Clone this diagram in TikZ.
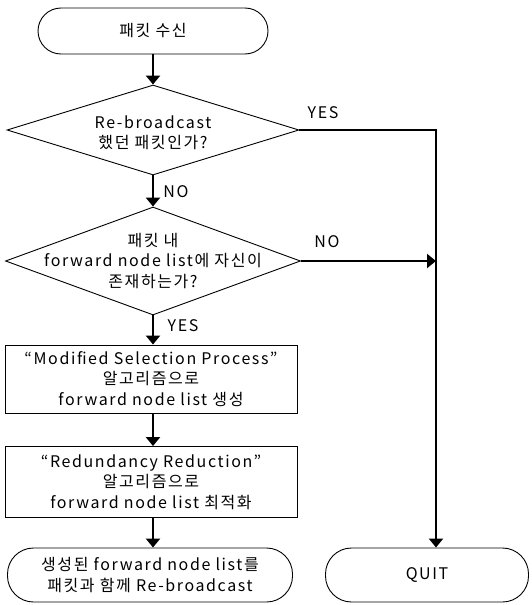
\documentclass[tikz,border=0pt]{standalone}
\usepackage{fontspec}
\setmainfont{Noto Sans CJK KR}[LetterSpace=10]
\usetikzlibrary{shapes.geometric,arrows.meta}

\begin{document}
\begin{tikzpicture}[x=1pt,y=-1pt,>={Triangle[width=14pt,length=9pt]},
  every node/.style={font=\fontsize{16}{20.5}\selectfont,align=center},
  term node/.style={draw,line width=0.9pt,rounded corners=23pt,minimum height=46pt,inner sep=0pt},
  test node/.style={draw,line width=0.9pt,diamond,inner sep=0pt},
  proc node/.style={draw,line width=0.9pt,rectangle,minimum width=292pt,inner sep=0pt},
  flow/.style={->,line width=2.2pt}]

\useasboundingbox (0,0) rectangle (531,605);

% main column
\node[term node,minimum width=230pt] (start) at (153,31) {패킷 수신};
\node[test node,minimum width=292pt,minimum height=90pt] (dup) at (153,130) {};
\node (dupt) at (153,133) {Re-broadcast\\했던 패킷인가?};
\node[test node,minimum width=295pt,minimum height=108pt] (mine) at (153,261) {};
\node (minet) at (153,261) {패킷 내\\forward node list에 자신이\\존재하는가?};
\node[proc node,minimum height=68pt] (sel) at (151,379) {“Modified Selection Process”\\알고리즘으로\\forward node list 생성};
\node[proc node,minimum height=71pt] (red) at (151,482) {“Redundancy Reduction”\\알고리즘으로\\forward node list 최적화};
\node[term node,minimum width=285pt,minimum height=54pt,rounded corners=26pt] (send) at (150,575) {생성된 forward node list를\\패킷과 함께 Re-broadcast};
\node[term node,minimum width=203pt,minimum height=54pt,rounded corners=26pt] (quit) at (427,575) {QUIT};

\coordinate (turn) at (436,130);

\draw[flow] (start) -- (dup);
\draw[flow] (dup) -- (mine);
\draw[flow] (mine) -- (mine |- sel.north);
\draw[flow] (sel.south -| mine) -- (mine |- red.north);
\draw[flow] (red.south -| mine) -- (mine |- send.north);
\draw[flow] (dup.east) -- (turn) -- (turn |- quit.north);
\draw[flow] (mine.east) -- (mine.east -| turn);

% branch labels
\node (y1) at (323,113) {YES};
\node (n1) at (176,192) {NO};
\node (n2) at (327,242) {NO};
\node (y2) at (183,326) {YES};

\end{tikzpicture}
\end{document}
